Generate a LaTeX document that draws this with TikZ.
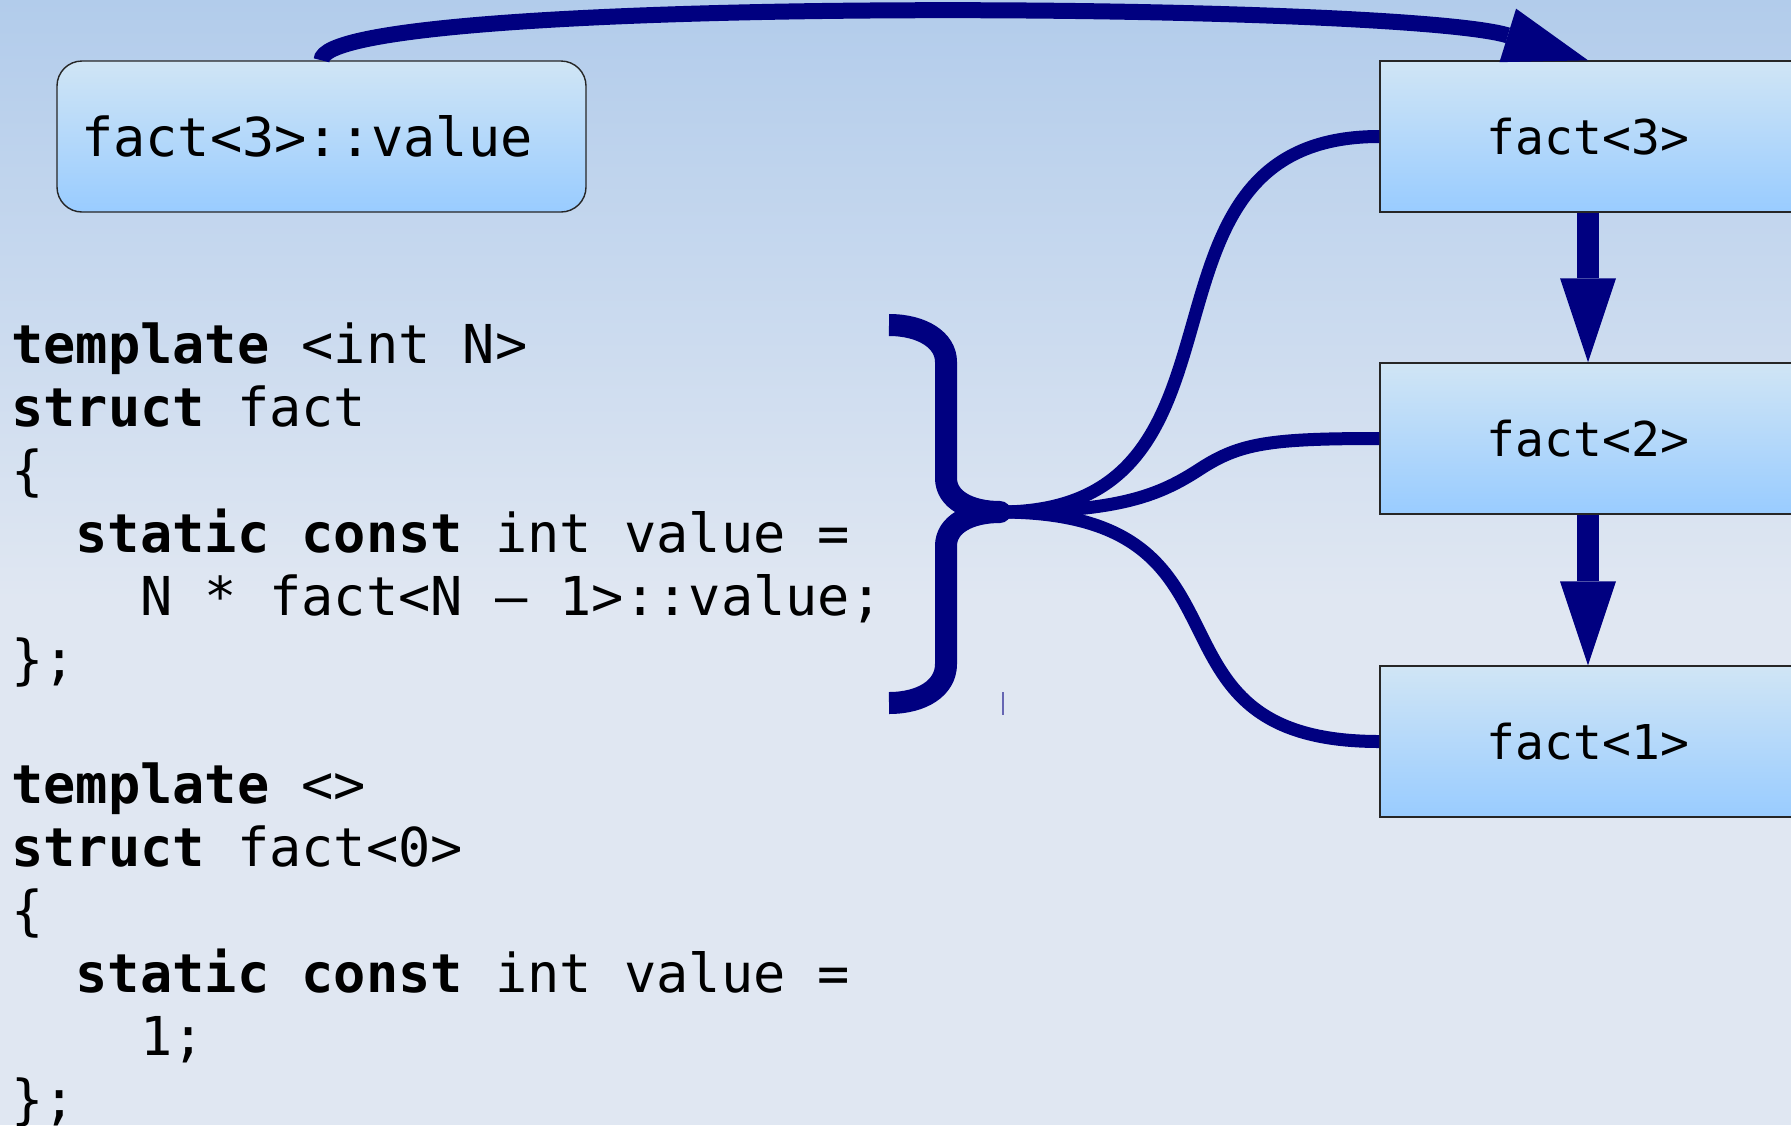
\documentclass[tikz,border=0pt]{standalone}
\usepackage{fontspec}
\newfontfamily\codefont{DejaVu Sans Mono}
\usetikzlibrary{arrows.meta}

\definecolor{navyline}{RGB}{0,0,128}
\definecolor{bgtop}{RGB}{178,204,235}
\definecolor{bgbot}{RGB}{224,231,242}
\definecolor{boxtop}{RGB}{208,229,245}
\definecolor{boxbot}{RGB}{153,204,255}

\begin{document}
\begin{tikzpicture}[x=1pt, y=-1pt,
  box/.style={draw=black!85, line width=1.4pt, top color=boxtop, bottom color=boxbot, inner sep=0pt},
  bigfont/.style={font={\codefont\fontsize{53.6pt}{62.9pt}\selectfont}},
  boxfont/.style={font={\codefont\fontsize{48pt}{56pt}\selectfont}},
  codeline/.style={bigfont, anchor=base west, inner sep=0pt},
  fathead/.style={-{Triangle[length=84pt, width=56pt, line width=0pt]}},
  thickarrow/.style={navyline, line width=22pt, fathead},
  toparrow/.style={navyline, line width=16pt, fathead},
  branch/.style={navyline, line width=13pt},
  bracestroke/.style={navyline, line width=22pt, line join=round}
]
\useasboundingbox (0,0) rectangle (1791,1125);
\clip (0,0) rectangle (1791,1125);

% background
\fill[bgbot] (0,0) rectangle (1791,1125);
\shade[top color=bgtop, bottom color=bgbot] (0,0) rectangle (1791,600);

% boxes
\node[box, rounded corners=25pt, bigfont, text width=481pt, inner xsep=24pt,
      minimum height=151pt, align=left] (val) at (321.5,136.5) {fact<3>::value};
\node[box, boxfont, minimum width=416pt, minimum height=151pt] (f3) at (1588,136.5) {fact<3>};
\node[box, boxfont, minimum width=416pt, minimum height=151pt] (f2) at (1588,438.5) {fact<2>};
\node[box, boxfont, minimum width=416pt, minimum height=151pt] (f1) at (1588,741.5) {fact<1>};

% source code
\node[codeline] (c1)  at (11,363)  {\textbf{template} <int N>};
\node[codeline] (c2)  at (11,426)  {\textbf{struct} fact};
\node[codeline] (c3)  at (11,489)  {\{};
\node[codeline] (c4)  at (75.5,552) {\textbf{static const} int value =};
\node[codeline] (c5)  at (140,615) {N * fact<N – 1>::value;};
\node[codeline] (c6)  at (11,678)  {\};};
\node[codeline] (c7)  at (11,803)  {\textbf{template} <>};
\node[codeline] (c8)  at (11,866)  {\textbf{struct} fact<0>};
\node[codeline] (c9)  at (11,929)  {\{};
\node[codeline] (c10) at (75.5,992) {\textbf{static const} int value =};
\node[codeline] (c11) at (140,1055) {1;};
\node[codeline] (c12) at (11,1118) {\};};

% junction of the brace
\coordinate (j) at (1000,512);

% branches from the brace to the instantiations
\draw[branch] (j) .. controls (1276,512) and (1111,136.5) .. (f3.west);
\draw[branch] (j) .. controls (1120,512) and (1160,495) .. (1200,469)
                  .. controls (1240,443) and (1270,438.5) .. (f2.west);
\draw[branch] (j) .. controls (1275,512) and (1124,741.5) .. (f1.west);

% curly brace
\coordinate (bt) at (889,325);
\coordinate (bb) at (889,703);
\draw[bracestroke] (bt) .. controls (922,325) and (946,340) .. (946,362)
  -- (946,478) .. controls (946,500) and (970,512) .. (j)
  .. controls (970,512) and (946,524) .. (946,546)
  -- (946,664) .. controls (946,688) and (922,703) .. (bb);
\draw[navyline!60, line width=1.5pt] (1003,692) -- (1003,715);

% arrows
\draw[toparrow] (val.north) .. controls (321.5,-6) and (1400,2) .. (f3.north);
\draw[thickarrow] (f3.south) -- (f2.north);
\draw[thickarrow] (f2.south) -- (f1.north);
\end{tikzpicture}
\end{document}
